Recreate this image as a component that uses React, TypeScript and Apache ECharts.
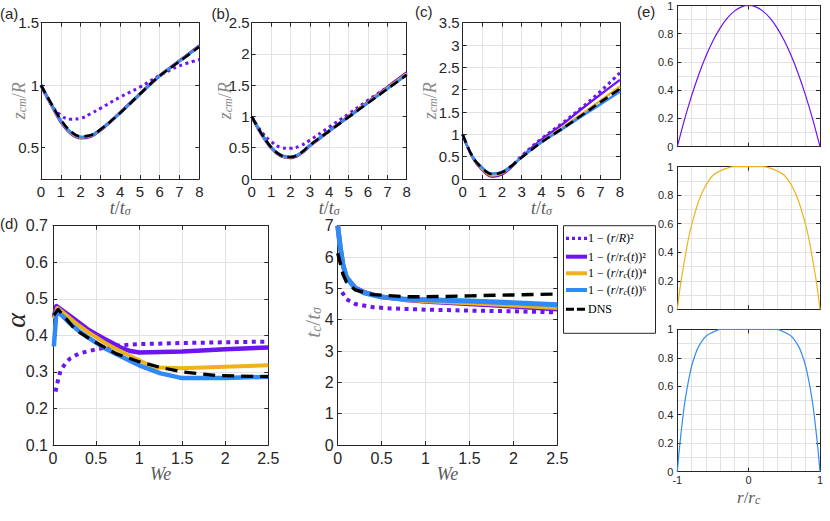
import React, { useEffect, useRef } from "react";
import * as echarts from "echarts";

// ---------------- data ----------------
// (a) z_cm/R vs t/t_sigma
const tA = [0, 0.5, 1, 1.5, 2, 2.5, 3, 4, 5, 6, 7, 8];
const aDot = [1.0, 0.85, 0.76, 0.728, 0.735, 0.772, 0.815, 0.905, 0.985, 1.078, 1.155, 1.205];
const aN2 = [1.0, 0.85, 0.71, 0.615, 0.578, 0.59, 0.64, 0.78, 0.93, 1.075, 1.195, 1.315];
const aN4 = [1.0, 0.852, 0.715, 0.62, 0.582, 0.593, 0.642, 0.78, 0.93, 1.075, 1.193, 1.312];
const aN6 = [1.0, 0.855, 0.72, 0.625, 0.587, 0.597, 0.645, 0.78, 0.93, 1.074, 1.192, 1.31];
const aDNS = [1.0, 0.858, 0.725, 0.632, 0.592, 0.6, 0.645, 0.778, 0.93, 1.075, 1.19, 1.308];

// (b)
const tB = [0, 0.5, 1, 1.5, 2, 2.5, 3, 4, 5, 6, 7, 8];
const bDot = [1.0, 0.76, 0.6, 0.505, 0.49, 0.53, 0.62, 0.83, 1.04, 1.26, 1.47, 1.69];
const bN2 = [1.0, 0.72, 0.5, 0.37, 0.34, 0.4, 0.53, 0.77, 1.0, 1.23, 1.465, 1.7];
const bN4 = [1.0, 0.725, 0.505, 0.375, 0.345, 0.405, 0.535, 0.77, 0.995, 1.225, 1.455, 1.685];
const bN6 = [1.0, 0.73, 0.51, 0.385, 0.355, 0.41, 0.54, 0.77, 0.99, 1.215, 1.44, 1.665];
const bDNS = [1.0, 0.73, 0.51, 0.38, 0.35, 0.41, 0.54, 0.765, 0.99, 1.215, 1.44, 1.665];

// (c)
const tC = [0, 0.5, 1, 1.5, 2, 2.5, 3, 4, 5, 6, 7, 8];
const cDot = [1.0, 0.5, 0.22, 0.08, 0.12, 0.3, 0.52, 0.9, 1.23, 1.58, 1.96, 2.38];
const cN2 = [1.0, 0.48, 0.2, 0.05, 0.1, 0.27, 0.5, 0.88, 1.2, 1.55, 1.89, 2.22];
const cN4 = [1.0, 0.49, 0.22, 0.08, 0.13, 0.29, 0.49, 0.83, 1.13, 1.44, 1.75, 2.07];
const cN6 = [1.0, 0.5, 0.25, 0.12, 0.16, 0.3, 0.49, 0.82, 1.1, 1.39, 1.67, 1.96];
const cDNS = [1.0, 0.5, 0.24, 0.11, 0.15, 0.3, 0.48, 0.82, 1.11, 1.41, 1.72, 2.02];

// (d) alpha vs We
const dDotW = [0.03, 0.06, 0.09, 0.15, 0.2, 0.3, 0.5, 0.75, 1.0, 1.5, 2.0, 2.5];
const dDot = [0.246, 0.28, 0.305, 0.325, 0.337, 0.35, 0.362, 0.372, 0.376, 0.379, 0.381, 0.383];
const dN2W = [0.01, 0.04, 0.1, 0.2, 0.3, 0.4, 0.5, 0.6, 0.7, 0.8, 0.9, 1.0, 1.5, 2.0, 2.5];
const dN2 = [0.45, 0.48, 0.47, 0.453, 0.435, 0.417, 0.403, 0.39, 0.378, 0.365, 0.357, 0.353, 0.356, 0.362, 0.367];
const dN4W = [0.01, 0.05, 0.1, 0.2, 0.3, 0.4, 0.5, 0.6, 0.7, 0.8, 0.9, 1.0, 1.1, 1.2, 1.5, 2.0, 2.5];
const dN4 = [0.445, 0.475, 0.466, 0.446, 0.427, 0.41, 0.395, 0.38, 0.367, 0.355, 0.343, 0.332, 0.321, 0.312, 0.31, 0.314, 0.318];
const dN6W = [0.01, 0.04, 0.1, 0.2, 0.3, 0.4, 0.5, 0.6, 0.75, 1.0, 1.25, 1.5, 2.0, 2.5];
const dN6 = [0.37, 0.465, 0.455, 0.432, 0.412, 0.395, 0.38, 0.365, 0.347, 0.318, 0.296, 0.283, 0.283, 0.287];
const dDNSW = [0.01, 0.06, 0.1, 0.26, 0.5, 0.73, 1.0, 1.25, 1.5, 1.9, 2.5];
const dDNS = [0.455, 0.471, 0.46, 0.415, 0.38, 0.35, 0.328, 0.312, 0.3, 0.29, 0.287];

// t_c/t_sigma vs We
const tcW = [0, 0.03, 0.06, 0.1, 0.2, 0.3, 0.5, 0.75, 1.0, 1.5, 2.0, 2.5];
const tcN2 = [7.0, 6.3, 5.75, 5.35, 5.02, 4.88, 4.73, 4.64, 4.58, 4.5, 4.42, 4.33];
const tcN4 = [7.0, 6.3, 5.75, 5.35, 5.0, 4.86, 4.72, 4.65, 4.6, 4.53, 4.46, 4.38];
const tcN6 = [7.0, 6.3, 5.75, 5.35, 5.0, 4.86, 4.72, 4.66, 4.64, 4.6, 4.54, 4.48];
const tcDNSW = [0, 0.03, 0.06, 0.1, 0.2, 0.4, 0.8, 1.2, 1.5, 2.0, 2.5];
const tcDNS = [6.12, 5.8, 5.45, 5.2, 4.95, 4.8, 4.73, 4.74, 4.76, 4.79, 4.82];
const tcDotW = [0.05, 0.1, 0.2, 0.4, 0.6, 1.0, 1.5, 2.0, 2.5];
const tcDot = [4.88, 4.65, 4.5, 4.4, 4.36, 4.32, 4.29, 4.27, 4.23];

// (e) profiles vs r/r_c
const eR2 = [-1, -0.9, -0.8, -0.7, -0.6, -0.5, -0.4, -0.3, -0.2, -0.1, 0, 0.1, 0.2, 0.3, 0.4, 0.5, 0.6, 0.7, 0.8, 0.9, 1];
const eN2 = [0, 0.19, 0.36, 0.51, 0.64, 0.75, 0.84, 0.91, 0.96, 0.99, 1, 0.99, 0.96, 0.91, 0.84, 0.75, 0.64, 0.51, 0.36, 0.19, 0];
const eR4 = [-1, -0.95, -0.9, -0.85, -0.8, -0.7, -0.6, -0.5, -0.4, -0.3, -0.2, 0, 0.2, 0.3, 0.4, 0.5, 0.6, 0.7, 0.8, 0.85, 0.9, 0.95, 1];
const eN4 = [0, 0.19, 0.34, 0.48, 0.59, 0.76, 0.87, 0.94, 0.97, 0.99, 1, 1, 1, 0.99, 0.97, 0.94, 0.87, 0.76, 0.59, 0.48, 0.34, 0.19, 0];
const eR6 = [-1, -0.975, -0.95, -0.9, -0.85, -0.8, -0.75, -0.7, -0.6, -0.5, -0.4, -0.3, 0, 0.3, 0.4, 0.5, 0.6, 0.7, 0.75, 0.8, 0.85, 0.9, 0.95, 0.975, 1];
const eN6 = [0, 0.14, 0.26, 0.47, 0.62, 0.74, 0.82, 0.88, 0.95, 0.98, 1, 1, 1, 1, 1, 0.98, 0.95, 0.88, 0.82, 0.74, 0.62, 0.47, 0.26, 0.14, 0];

// ---------------- style ----------------
const AX = "#262626";
const GRID = "#e2e2e2";
const PURPLE = "#6c14f2";
const ORANGE = "#efb21c";
const BLUE = "#2f89f6";
const BLACK = "#000000";
const SANS = "'Liberation Sans', Arial, Helvetica, sans-serif";
const SERIF = "'Liberation Serif', 'DejaVu Serif', serif";
const NAMEGRAY = "#8a8a8a";

function pairs(xs: number[], ys: number[]) {
  return xs.map((x, i) => [x, ys[i]]);
}

function nameRich(size: number, color: string) {
  const lh = size;
  const ss = Math.round(size * 0.68);
  return {
    i: { fontFamily: SERIF, fontStyle: "italic", fontSize: size, color, lineHeight: lh },
    n: { fontFamily: SERIF, fontSize: size, color, lineHeight: lh },
    s: { fontFamily: SERIF, fontStyle: "italic", fontSize: ss, color, lineHeight: ss, verticalAlign: "bottom" },
    a: { fontFamily: SERIF, fontStyle: "italic", fontSize: 28, color: AX, lineHeight: 26 },
  };
}

const grids: any[] = [];
const xAxes: any[] = [];
const yAxes: any[] = [];
const series: any[] = [];

type AxCfg = {
  min: number; max: number; interval: number; fontSize: number; margin: number;
  showLabels?: boolean; custom?: number[]; splitColors?: string[]; formatter?: any;
  minorSplit?: number; name?: string; nameGap?: number; nameColor?: string; nameSize?: number;
  namePad?: number[];
};

function mkAxis(kind: "x" | "y", gi: number, c: AxCfg, mirror: boolean) {
  const ax: any = {
    type: "value",
    gridIndex: gi,
    min: c.min,
    max: c.max,
    interval: c.interval,
    position: kind === "x" ? (mirror ? "top" : "bottom") : (mirror ? "right" : "left"),
    axisLine: { show: true, onZero: false, lineStyle: { color: AX, width: 1 } },
    axisTick: { show: true, inside: true, length: 4, lineStyle: { color: AX, width: 1 } },
    axisLabel: {
      show: !mirror && c.showLabels !== false,
      fontSize: c.fontSize,
      color: AX,
      fontFamily: SANS,
      margin: c.margin,
      hideOverlap: false,
    },
    splitLine: { show: false },
  };
  if (c.custom) {
    ax.axisTick.customValues = c.custom;
    ax.axisLabel.customValues = c.custom;
  }
  if (c.formatter) ax.axisLabel.formatter = c.formatter;
  if (!mirror) {
    ax.splitLine = { show: true, lineStyle: { color: c.splitColors || GRID, width: 1 } };
    if (c.minorSplit) {
      ax.minorTick = { show: false, splitNumber: c.minorSplit };
      ax.minorSplitLine = { show: true, lineStyle: { color: GRID, width: 1 } };
    }
    if (c.name) {
      ax.name = c.name;
      ax.nameLocation = "middle";
      ax.nameGap = c.nameGap;
      ax.nameMoveOverlap = false;
      ax.nameTextStyle = { rich: nameRich(c.nameSize || 14, c.nameColor || NAMEGRAY), padding: c.namePad || 0 };
    }
  }
  return ax;
}

function addPanel(box: number[], xc: AxCfg, yc: AxCfg) {
  const gi = grids.length;
  grids.push({ left: box[0], top: box[1], width: box[2], height: box[3], show: false, containLabel: false });
  const xi = xAxes.length;
  xAxes.push(mkAxis("x", gi, xc, false));
  xAxes.push(mkAxis("x", gi, xc, true));
  const yi = yAxes.length;
  yAxes.push(mkAxis("y", gi, yc, false));
  yAxes.push(mkAxis("y", gi, yc, true));
  return { xi, yi };
}

function line(p: { xi: number; yi: number }, data: number[][], color: string, width: number, type: any, z: number, smooth: any) {
  series.push({
    type: "line",
    xAxisIndex: p.xi,
    yAxisIndex: p.yi,
    data,
    symbol: "none",
    showSymbol: false,
    smooth,
    z,
    silent: true,
    lineStyle: { color, width, type, cap: "butt", join: "round" },
  });
}

const DOT_TOP = [3, 3.5];
const DASH_TOP = [9, 5];
const DOT_BOT = [4, 4.5];
const DASH_BOT = [12, 7];

const tName = "{i|t}{n|/}{i|t}{s|σ}";
const zName = "{i|z}{s|cm}{n|/}{i|R}";
const TGRAY = "#5a5a5a";

// (a)
const pA = addPanel([41, 22.7, 158.3, 156.3],
  { min: 0, max: 8, interval: 1, fontSize: 15, margin: 5, name: tName, nameGap: 20, nameColor: TGRAY, nameSize: 18 },
  { min: 0.25, max: 1.5, interval: 0.25, fontSize: 15, margin: 2, custom: [0.5, 1, 1.5],
    splitColors: ["rgba(0,0,0,0)", GRID], formatter: (v: number) => (Math.abs(v * 2 - Math.round(v * 2)) < 1e-6 ? String(v) : ""),
    name: zName, nameGap: 13, nameSize: 18 });
line(pA, pairs(tA, aDot), PURPLE, 3, DOT_TOP, 2, 0.4);
line(pA, pairs(tA, aN2), PURPLE, 3.2, "solid", 3, 0.4);
line(pA, pairs(tA, aN4), ORANGE, 2.6, "solid", 4, 0.4);
line(pA, pairs(tA, aN6), BLUE, 2.6, "solid", 5, 0.4);
line(pA, pairs(tA, aDNS), BLACK, 2.6, DASH_TOP, 6, 0.4);

// (b)
const pB = addPanel([251.7, 22.7, 155, 156.3],
  { min: 0, max: 8, interval: 1, fontSize: 15, margin: 5, name: tName, nameGap: 20, nameColor: TGRAY, nameSize: 18 },
  { min: 0, max: 2.5, interval: 0.5, fontSize: 15, margin: 2, name: zName, nameGap: 18, nameSize: 18 });
line(pB, pairs(tB, bDot), PURPLE, 3, DOT_TOP, 2, 0.4);
line(pB, pairs(tB, bN2), PURPLE, 3.2, "solid", 3, 0.4);
line(pB, pairs(tB, bN4), ORANGE, 2.6, "solid", 4, 0.4);
line(pB, pairs(tB, bN6), BLUE, 2.6, "solid", 5, 0.4);
line(pB, pairs(tB, bDNS), BLACK, 2.6, DASH_TOP, 6, 0.4);

// (c)
const pC = addPanel([462.7, 22.7, 157.3, 156.3],
  { min: 0, max: 8, interval: 1, fontSize: 15, margin: 5, name: tName, nameGap: 20, nameColor: TGRAY, nameSize: 18 },
  { min: 0, max: 3.5, interval: 0.5, fontSize: 15, margin: 3, name: zName, nameGap: 24, nameSize: 18 });
line(pC, pairs(tC, cDot), PURPLE, 3, DOT_TOP, 2, 0.4);
line(pC, pairs(tC, cN2), PURPLE, 2.4, "solid", 3, 0.4);
line(pC, pairs(tC, cN4), ORANGE, 2.4, "solid", 4, 0.4);
line(pC, pairs(tC, cN6), BLUE, 2.6, "solid", 5, 0.4);
line(pC, pairs(tC, cDNS), BLACK, 2.6, DASH_TOP, 6, 0.4);

// (d)
const weName = "{i|We}";
const pD = addPanel([49, 225.7, 219.3, 219.3],
  { min: 0, max: 2.5, interval: 0.5, fontSize: 16, margin: 5, name: weName, nameGap: 20, nameColor: TGRAY, nameSize: 18 },
  { min: 0.1, max: 0.7, interval: 0.1, fontSize: 16, margin: 5, name: "{a|α}", nameGap: 25, namePad: [0, 0, 0, 30] });
line(pD, pairs(dDotW, dDot), PURPLE, 4, DOT_BOT, 2, false);
line(pD, pairs(dN2W, dN2), PURPLE, 4.5, "solid", 3, false);
line(pD, pairs(dN4W, dN4), ORANGE, 4, "solid", 4, false);
line(pD, pairs(dN6W, dN6), BLUE, 4.5, "solid", 5, false);
line(pD, pairs(dDNSW, dDNS), BLACK, 3.2, DASH_BOT, 6, false);

// t_c
const pT = addPanel([337.7, 225.7, 219.6, 219.3],
  { min: 0, max: 2.5, interval: 0.5, fontSize: 16, margin: 5, name: weName, nameGap: 20, nameColor: TGRAY, nameSize: 18 },
  { min: 0, max: 7, interval: 1, fontSize: 16, margin: 4, name: "{i|t}{s|c}{n|/}{i|t}{s|σ}", nameGap: 14, nameSize: 21, namePad: [0, 0, 0, 26] });
line(pT, pairs(tcDotW, tcDot), PURPLE, 4, DOT_BOT, 2, false);
line(pT, pairs(tcW, tcN2), PURPLE, 4.5, "solid", 3, false);
line(pT, pairs(tcW, tcN4), ORANGE, 4.5, "solid", 4, false);
line(pT, pairs(tcW, tcN6), BLUE, 5, "solid", 5, false);
line(pT, pairs(tcDNSW, tcDNS), BLACK, 3.4, DASH_BOT, 6, false);

// (e)
const eX = (show: boolean): AxCfg => ({
  min: -1, max: 1, interval: 1, fontSize: 11, margin: 3, showLabels: show, minorSplit: 5,
  name: show ? "{i|r}{n|/}{i|r}{s|c}" : undefined, nameGap: 17, nameColor: TGRAY, nameSize: 17,
});
const eY: AxCfg = { min: 0, max: 1, interval: 0.2, fontSize: 11, margin: 4, minorSplit: 2 };
const pE1 = addPanel([677.3, 5, 142.7, 141.7], eX(false), eY);
const pE2 = addPanel([677.3, 166.7, 142.7, 142.6], eX(false), eY);
const pE3 = addPanel([677.3, 329.3, 142.7, 142.4], eX(true), eY);
line(pE1, pairs(eR2, eN2), PURPLE, 1.2, "solid", 3, 0.3);
line(pE2, pairs(eR4, eN4), ORANGE, 1.2, "solid", 3, 0.3);
line(pE3, pairs(eR6, eN6), BLUE, 1.2, "solid", 3, 0.3);

// ---------------- legend & panel letters (graphic) ----------------
const LF = 12;
const legRich = {
  n: { fontFamily: SERIF, fontSize: LF, color: AX },
  i: { fontFamily: SERIF, fontStyle: "italic", fontSize: LF, color: AX },
  m: { fontFamily: SERIF, fontSize: LF, color: AX, padding: [0, 3, 0, 3] },
  s: { fontFamily: SERIF, fontStyle: "italic", fontSize: 8, color: AX, verticalAlign: "bottom", lineHeight: 7 },
};
const legendItems = [
  { color: PURPLE, dash: [3, 3], w: 3.2, text: "{n|1}{m|−}{n|(}{i|r}{n|/}{i|R}{n|)²}" },
  { color: PURPLE, dash: null, w: 4, text: "{n|1}{m|−}{n|(}{i|r}{n|/}{i|r}{s|c}{n|(}{i|t}{n|))²}" },
  { color: ORANGE, dash: null, w: 4, text: "{n|1}{m|−}{n|(}{i|r}{n|/}{i|r}{s|c}{n|(}{i|t}{n|))⁴}" },
  { color: BLUE, dash: null, w: 4, text: "{n|1}{m|−}{n|(}{i|r}{n|/}{i|r}{s|c}{n|(}{i|t}{n|))⁶}" },
  { color: BLACK, dash: [8, 3], w: 3, text: "{n|DNS}" },
];
const legendY = [238.3, 256.7, 273.3, 290, 309.3];

const graphic: any[] = [
  { type: "rect", shape: { x: 563.5, y: 225.7, width: 92, height: 107.6 }, style: { fill: "#fff", stroke: AX, lineWidth: 1 }, z: 10 },
];
legendItems.forEach((it, k) => {
  graphic.push({
    type: "line",
    shape: { x1: 566, y1: legendY[k], x2: 587, y2: legendY[k] },
    style: { stroke: it.color, lineWidth: it.w, lineDash: it.dash || undefined },
    z: 11,
  });
  graphic.push({
    type: "text",
    x: 588,
    y: legendY[k],
    style: { text: it.text, rich: legRich, verticalAlign: "middle", align: "left" },
    z: 11,
  });
});
const letters = [
  { t: "(a)", x: 0, y: 13.5 },
  { t: "(b)", x: 211.5, y: 13.5 },
  { t: "(c)", x: 415, y: 11.5 },
  { t: "(d)", x: 0, y: 223 },
  { t: "(e)", x: 637, y: 11.5 },
];
letters.forEach((l) => {
  graphic.push({
    type: "text",
    x: l.x,
    y: l.y,
    style: { text: l.t, font: `15px ${SANS}`, fill: AX, verticalAlign: "middle", align: "left" },
    z: 11,
  });
});

export default function App() {
  const ref = useRef<HTMLDivElement>(null);
  useEffect(() => {
    document.body.style.margin = "0";
    const chart = echarts.init(ref.current!, null, { renderer: "svg" });
    chart.setOption({
      animation: false,
      backgroundColor: "#ffffff",
      grid: grids,
      xAxis: xAxes,
      yAxis: yAxes,
      series,
      graphic,
    });
    return () => chart.dispose();
  }, []);
  return <div ref={ref} style={{ width: 830, height: 521 }} />;
}
